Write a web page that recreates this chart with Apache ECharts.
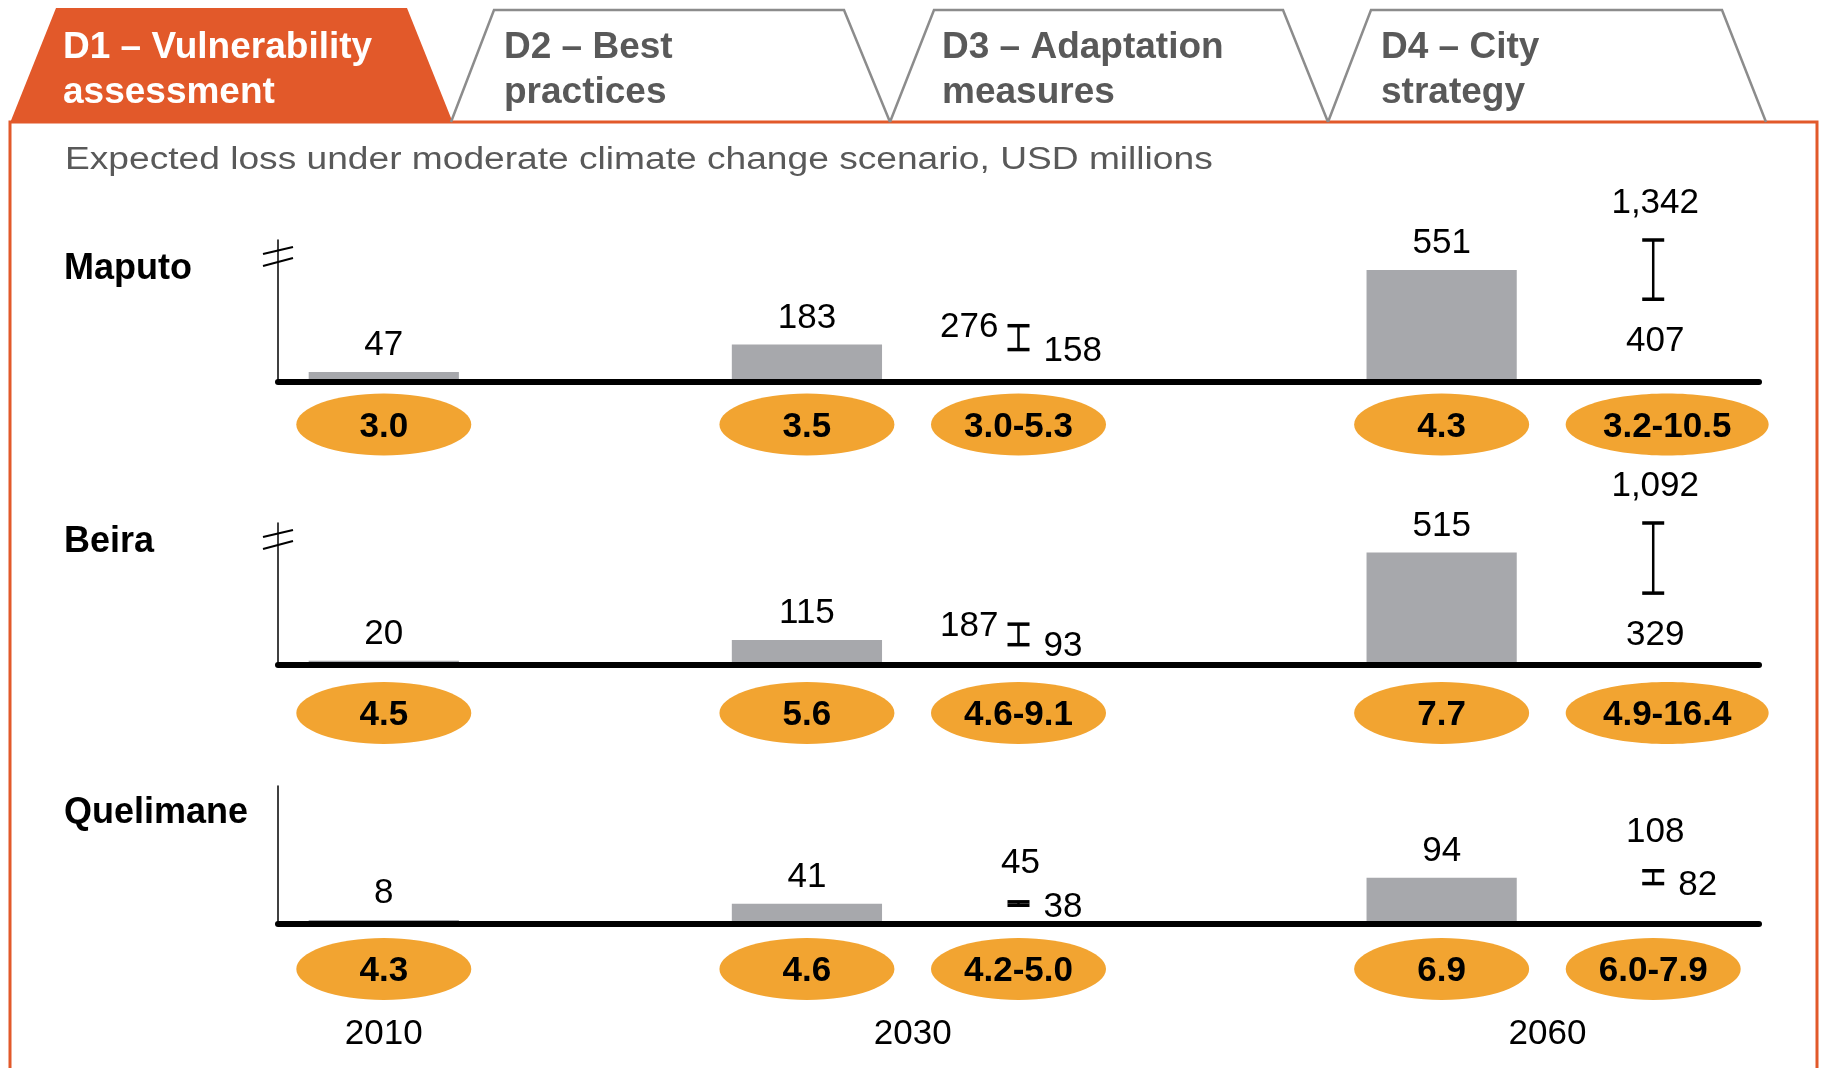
<!DOCTYPE html>
<html>
<head>
<meta charset="utf-8">
<title>Expected loss under moderate climate change scenario</title>
<script src="https://cdn.jsdelivr.net/npm/echarts@6.0.0/dist/echarts.min.js"></script>
<style>
  html, body { margin: 0; padding: 0; background: #fff; }
  #chart { width: 1824px; height: 1068px; }
</style>
</head>
<body>
<div id="chart"></div>
<script>
// Expected loss by city - bars for point estimates, I-beams for ranges, ovals for % values

const cities = ['Maputo', 'Beira', 'Quelimane'];
const slots = ['2010', 'gap a', '2030', '2030 range', 'gap b', '2060', '2060 range'];
const years = ['2010', '2030', '2060'];

const loss2010 = [47, 20, 8];
const loss2030 = [183, 115, 41];
const loss2060 = [551, 515, 94];
const low2030 = [158, 93, 38];
const high2030 = [276, 187, 45];
const low2060 = [407, 329, 82];
const high2060 = [1342, 1092, 108];

const share2010 = ['3.0', '4.5', '4.3'];
const share2030 = ['3.5', '5.6', '4.6'];
const shareRange2030 = ['3.0-5.3', '4.6-9.1', '4.2-5.0'];
const share2060 = ['4.3', '7.7', '6.9'];
const shareRange2060 = ['3.2-10.5', '4.9-16.4', '6.0-7.9'];

const tabLines = [
  ['D1 – Vulnerability', 'assessment'],
  ['D2 – Best', 'practices'],
  ['D3 – Adaptation', 'measures'],
  ['D4 – City', 'strategy']
];
const subtitle = 'Expected loss under moderate climate change scenario, USD millions';

// layout
const FONT = '"Liberation Sans", Arial, sans-serif';
const ORANGE = '#E2592A';
const gridTops = [240, 523, 786];
const gridHeights = [141.5, 142, 138];
const axisMax = [700, 650, 280];
const hasBreak = [true, true, false];
const ovalOffset = [42, 47, 44];
const rangeLayout = [['side', 'stack'], ['side', 'stack'], ['above', 'above']];
const cityLabelY = [269, 542, 813];
const tabShapes = [
  [[10, 123], [56, 8], [407, 8], [453, 123]],
  [[451, 122], [494, 10], [844, 10], [890, 122]],
  [[890, 122], [934, 10], [1283, 10], [1328, 122]],
  [[1328, 122], [1371, 10], [1722, 10], [1766, 122]]
];
const tabTextX = [63, 504, 942, 1381];

const measureCtx = document.createElement('canvas').getContext('2d');
measureCtx.font = 'bold 35px ' + FONT;

// year label sits under the middle of the slots that belong to it
const yearAt = {};
years.forEach(function (y) {
  const idx = [];
  slots.forEach(function (s, k) { if (s.indexOf(y) === 0) idx.push(k); });
  const mid = idx.reduce(function (a, b) { return a + b; }, 0) / idx.length;
  yearAt[mid] = y;
});

const grids = [];
const xAxes = [];
const yAxes = [];
const series = [];

cities.forEach(function (city, i) {
  grids.push({ left: 278, right: 65, top: gridTops[i], height: gridHeights[i], outerBoundsMode: 'none' });

  xAxes.push({
    gridIndex: i,
    type: 'category',
    data: slots,
    z: 5,
    axisLine: { show: true, lineStyle: { color: '#000', width: 6, cap: 'round' } },
    axisTick: { show: false },
    axisLabel: { show: false },
    splitLine: { show: false }
  });

  yAxes.push({
    gridIndex: i,
    type: 'value',
    min: 0,
    max: axisMax[i],
    axisLine: { show: true, onZero: false, lineStyle: { color: '#000', width: 1.5 } },
    axisTick: { show: false },
    axisLabel: { show: false },
    splitLine: { show: false }
  });

  const barData = slots.map(function (s, k) {
    if (k === 0) return loss2010[i];
    if (k === 2) return loss2030[i];
    if (k === 5) return loss2060[i];
    return '-';
  });

  series.push({
    type: 'bar',
    xAxisIndex: i,
    yAxisIndex: i,
    data: barData,
    barWidth: '71%',
    itemStyle: { color: '#A7A8AC' },
    label: {
      show: true,
      position: 'top',
      distance: 9,
      fontSize: 35,
      fontFamily: FONT,
      color: '#000'
    },
    silent: true
  });

  // I-beam ranges
  series.push({
    type: 'custom',
    xAxisIndex: i,
    yAxisIndex: i,
    clip: false,
    silent: true,
    data: [[3, low2030[i], high2030[i]], [6, low2060[i], high2060[i]]],
    renderItem: function (params, api) {
      const slot = api.value(0);
      const lo = api.value(1);
      const hi = api.value(2);
      const pLo = api.coord([slot, lo]);
      const pHi = api.coord([slot, Math.min(hi, axisMax[i])]);
      const x = pLo[0];
      const mode = rangeLayout[i][params.dataIndex];
      const txt = function (t, tx, ty, align) {
        return {
          type: 'text', x: tx, y: ty,
          style: { text: t, fontSize: 35, fontFamily: FONT, fill: '#000', align: align, verticalAlign: 'middle' }
        };
      };
      const hiText = hi.toLocaleString('en-US');
      const loText = lo.toLocaleString('en-US');
      const children = [
        { type: 'line', shape: { x1: x, y1: pLo[1], x2: x, y2: pHi[1] }, style: { stroke: '#000', lineWidth: 2.5 } },
        { type: 'line', shape: { x1: x - 11, y1: pHi[1], x2: x + 11, y2: pHi[1] }, style: { stroke: '#000', lineWidth: 3.5 } },
        { type: 'line', shape: { x1: x - 11, y1: pLo[1], x2: x + 11, y2: pLo[1] }, style: { stroke: '#000', lineWidth: 3.5 } }
      ];
      if (mode === 'side') {
        children.push(txt(hiText, x - 20, pHi[1] + 2, 'right'));
        children.push(txt(loText, x + 25, pLo[1] + 2, 'left'));
      } else if (mode === 'stack') {
        children.push(txt(hiText, x + 2, pHi[1] - 37, 'center'));
        children.push(txt(loText, x + 2, pLo[1] + 42, 'center'));
      } else {
        children.push(txt(hiText, x + 2, pHi[1] - 38, 'center'));
        children.push(txt(loText, x + 25, pLo[1] + 2, 'left'));
      }
      return { type: 'group', children: children };
    }
  });

  // orange ovals under the axis; wide ones grow to the right
  const ovalTexts = [share2010[i], share2030[i], shareRange2030[i], share2060[i], shareRange2060[i]];
  series.push({
    type: 'custom',
    xAxisIndex: i,
    yAxisIndex: i,
    clip: false,
    silent: true,
    data: [[0, 0], [2, 0], [3, 0], [5, 0], [6, 0]],
    renderItem: function (params, api) {
      const p = api.coord([api.value(0), 0]);
      const t = ovalTexts[params.dataIndex];
      const w = measureCtx.measureText(t).width;
      const rx = Math.max(87.5, w * 0.79);
      const cx = p[0] + (rx - 87.5);
      const cy = p[1] + ovalOffset[i] + 1;
      return {
        type: 'group',
        children: [
          { type: 'ellipse', shape: { cx: cx, cy: cy, rx: rx, ry: 31 }, style: { fill: '#F2A431' } },
          {
            type: 'text', x: cx, y: cy + 2.5,
            style: { text: t, fontSize: 35, fontWeight: 'bold', fontFamily: FONT, fill: '#000', align: 'center', verticalAlign: 'middle' }
          }
        ]
      };
    }
  });

  // axis break marks
  if (hasBreak[i]) {
    series.push({
      type: 'custom',
      xAxisIndex: i,
      yAxisIndex: i,
      clip: false,
      silent: true,
      data: [[0, axisMax[i]]],
      renderItem: function (params, api) {
        const p = api.coord([0, api.value(1)]);
        const ax = p[0] - api.size([1, 0])[0] / 2;
        const top = p[1];
        return {
          type: 'group',
          children: [
            { type: 'line', shape: { x1: ax - 15, y1: top + 14, x2: ax + 15, y2: top + 7 }, style: { stroke: '#000', lineWidth: 2 } },
            { type: 'line', shape: { x1: ax - 15, y1: top + 26, x2: ax + 15, y2: top + 18 }, style: { stroke: '#000', lineWidth: 2 } }
          ]
        };
      }
    });
  }
});

// year labels under the last panel
xAxes.push({
  gridIndex: cities.length - 1,
  type: 'value',
  min: -0.5,
  max: 6.5,
  interval: 0.5,
  position: 'bottom',
  axisLine: { show: false, onZero: false },
  axisTick: { show: false },
  splitLine: { show: false },
  axisLabel: {
    margin: 93,
    fontSize: 35,
    fontFamily: FONT,
    color: '#000',
    showMinLabel: true,
    showMaxLabel: true,
    formatter: function (v) { return yearAt[v] || ''; }
  }
});

const graphic = [
  { type: 'rect', shape: { x: 10, y: 122, width: 1807, height: 1000 }, style: { fill: 'none', stroke: ORANGE, lineWidth: 3 } }
];
tabShapes.forEach(function (pts, k) {
  if (k === 0) {
    graphic.push({ type: 'polygon', shape: { points: pts }, style: { fill: ORANGE } });
  } else {
    graphic.push({ type: 'polyline', shape: { points: pts }, style: { fill: 'none', stroke: '#8C8C8C', lineWidth: 2.5 } });
  }
  graphic.push({
    type: 'text', x: tabTextX[k], y: 70.5,
    style: {
      text: tabLines[k].join('\n'),
      fontSize: 37, fontWeight: 'bold', fontFamily: FONT, lineHeight: 45,
      fill: k === 0 ? '#fff' : '#595959', verticalAlign: 'middle'
    }
  });
});
graphic.push({
  type: 'text', x: 65, y: 160, scaleX: 1.198,
  style: { text: subtitle, fontSize: 31, fontFamily: FONT, fill: '#595959', verticalAlign: 'middle' }
});
cities.forEach(function (city, i) {
  graphic.push({
    type: 'text', x: 64, y: cityLabelY[i],
    style: { text: city, fontSize: 36, fontWeight: 'bold', fontFamily: FONT, fill: '#000', verticalAlign: 'middle' }
  });
});

const myChart = echarts.init(document.getElementById('chart'));
myChart.setOption({
  animation: false,
  backgroundColor: '#fff',
  graphic: graphic,
  grid: grids,
  xAxis: xAxes,
  yAxis: yAxes,
  series: series
});
</script>
</body>
</html>
